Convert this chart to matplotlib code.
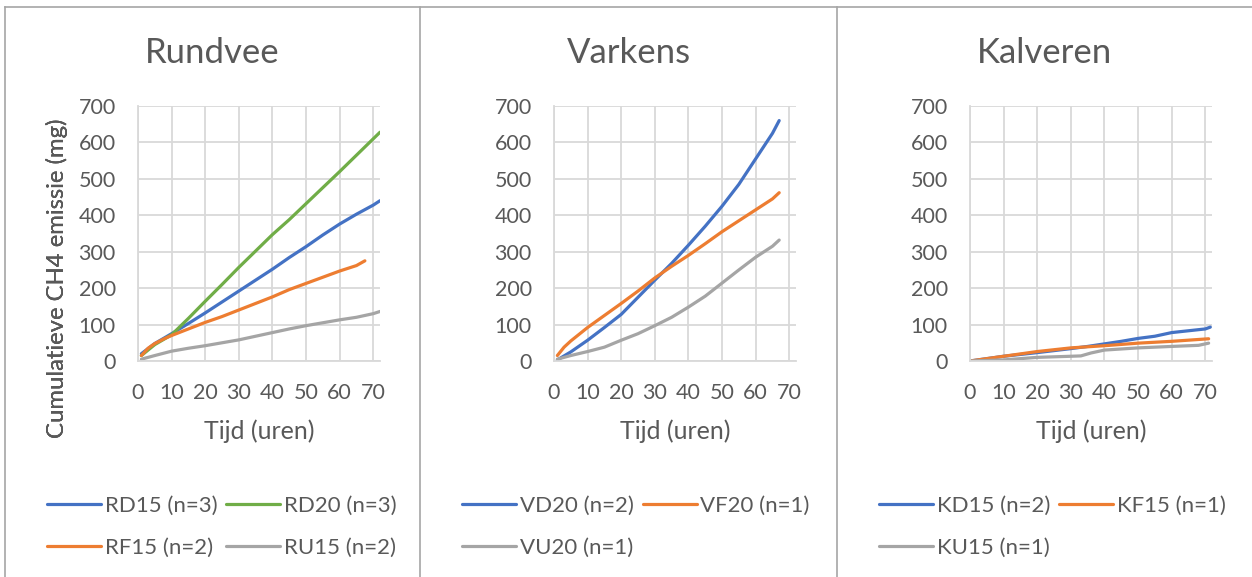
import matplotlib.pyplot as plt
from matplotlib.lines import Line2D

plt.rcParams["font.family"] = ["Lato", "DejaVu Sans"]

BLUE = "#4472C4"
ORANGE = "#ED7D31"
GREY = "#A5A5A5"
GREEN = "#70AD47"
TEXT = "#595959"
GRID = "#D9D9D9"

# Rundvee
rd15_t = [1, 5, 10, 15, 20, 25, 30, 35, 40, 45, 50, 55, 60, 65, 70, 72]
rd15_v = [20, 48, 75, 103, 132, 162, 192, 222, 252, 284, 314, 346, 376, 403, 428, 440]
rd20_t = [1, 5, 10, 15, 20, 25, 30, 35, 40, 45, 50, 55, 60, 65, 70, 72]
rd20_v = [15, 45, 72, 117, 164, 210, 257, 302, 347, 388, 432, 476, 520, 565, 610, 628]
rf15_t = [1, 3, 5, 8, 10, 15, 20, 25, 30, 35, 40, 45, 50, 55, 60, 65, 67.5]
rf15_v = [15, 35, 48, 62, 70, 88, 106, 122, 140, 158, 176, 196, 213, 230, 247, 262, 275]
ru15_t = [1, 5, 10, 15, 20, 25, 30, 35, 40, 45, 50, 55, 60, 65, 70, 72]
ru15_v = [5, 15, 27, 35, 42, 50, 58, 68, 78, 88, 97, 105, 113, 120, 130, 136]

# Varkens
vd20_t = [1, 5, 10, 15, 20, 25, 30, 35, 40, 45, 50, 55, 60, 65, 67]
vd20_v = [3, 25, 57, 92, 128, 175, 222, 268, 318, 370, 425, 485, 555, 625, 660]
vf20_t = [1, 3, 5, 10, 15, 20, 25, 30, 35, 40, 45, 50, 55, 60, 65, 67]
vf20_v = [15, 38, 55, 92, 125, 158, 192, 228, 260, 290, 322, 355, 385, 415, 445, 462]
vu20_t = [1, 5, 10, 15, 20, 25, 30, 35, 40, 45, 50, 55, 60, 65, 67]
vu20_v = [5, 15, 26, 38, 57, 75, 97, 120, 148, 178, 214, 250, 285, 315, 332]

# Kalveren
kd15_t = [0, 10, 20, 30, 35, 40, 45, 50, 55, 60, 65, 70, 71.5]
kd15_v = [0, 13, 23, 34, 40, 47, 54, 62, 68, 78, 83, 88, 93]
kf15_t = [0, 10, 20, 30, 40, 50, 60, 71]
kf15_v = [0, 13, 26, 36, 42, 49, 54, 61]
ku15_t = [0, 10, 20, 30, 33, 36, 40, 50, 60, 68, 71]
ku15_v = [0, 3, 10, 13, 14, 22, 30, 36, 40, 43, 49]

panels = [
    ("Rundvee", [
        ("RD15 (n=3)", rd15_t, rd15_v, BLUE),
        ("RD20 (n=3)", rd20_t, rd20_v, GREEN),
        ("RF15 (n=2)", rf15_t, rf15_v, ORANGE),
        ("RU15 (n=2)", ru15_t, ru15_v, GREY),
    ]),
    ("Varkens", [
        ("VD20 (n=2)", vd20_t, vd20_v, BLUE),
        ("VF20 (n=1)", vf20_t, vf20_v, ORANGE),
        ("VU20 (n=1)", vu20_t, vu20_v, GREY),
    ]),
    ("Kalveren", [
        ("KD15 (n=2)", kd15_t, kd15_v, BLUE),
        ("KF15 (n=1)", kf15_t, kf15_v, ORANGE),
        ("KU15 (n=1)", ku15_t, ku15_v, GREY),
    ]),
]

W, H = 1252, 577
fig = plt.figure(figsize=(W / 100, H / 100), dpi=100)

plot_left = [138, 554, 970]
legend_left = [47, 462, 879]
panel_edges = [5, 420, 837, 1252]
plot_w = 242
plot_top, plot_bottom = 106, 361

for i, (title, series) in enumerate(panels):
    ax = fig.add_axes([plot_left[i] / W, 1 - plot_bottom / H, plot_w / W, (plot_bottom - plot_top) / H])
    for label, t, v, c in series:
        ax.plot(t, v, color=c, lw=2.3, label=label, solid_capstyle="round")
    ax.set_xlim(0, 72)
    ax.set_ylim(0, 700)
    ax.set_xticks(range(0, 71, 10))
    ax.set_yticks(range(0, 701, 100))
    ax.grid(True, color=GRID, lw=1.3)
    ax.set_axisbelow(True)
    for s in ["top", "right"]:
        ax.spines[s].set_visible(False)
    for s in ["left", "bottom"]:
        ax.spines[s].set_color(GRID)
        ax.spines[s].set_linewidth(1.3)
    ax.tick_params(length=0, labelsize=15.5, colors=TEXT)
    ax.tick_params(axis="y", pad=16)
    ax.tick_params(axis="x", pad=16)
    ax.set_xlabel("Tijd (uren)", fontsize=18, color=TEXT, labelpad=12)
    ax.set_ylabel("Cumulatieve CH4 emissie (mg)", fontsize=17.2, color=TEXT)
    ax.yaxis.set_label_coords((68 - plot_left[i]) / plot_w, (plot_bottom - 278) / (plot_bottom - plot_top))

    cx = (panel_edges[i] + panel_edges[i + 1]) / 2
    fig.text(cx / W, 1 - 53 / H, title, ha="center", va="center", fontsize=25, color=TEXT)

    # legend fills row by row, matplotlib fills by column
    handles, labels = ax.get_legend_handles_labels()
    order = [0, 2, 1, 3] if len(handles) == 4 else [0, 2, 1]
    fig.legend([handles[k] for k in order], [labels[k] for k in order], loc="upper left",
               bbox_to_anchor=(legend_left[i] / W, 1 - 496 / H),
               ncol=2, frameon=False, fontsize=16, labelcolor=TEXT,
               borderpad=0, borderaxespad=0,
               handlelength=2.43, handletextpad=0.17, columnspacing=0.4,
               labelspacing=1.0)

# chart borders
bc = "#A6A6A6"
fig.add_artist(Line2D([5 / W, 1], [1 - 7 / H, 1 - 7 / H], color=bc, lw=1.2))
for x in [5, 420, 837]:
    fig.add_artist(Line2D([x / W, x / W], [0, 1 - 7 / H], color=bc, lw=1.2))

fig.savefig("out.png", dpi=100, facecolor="white")
